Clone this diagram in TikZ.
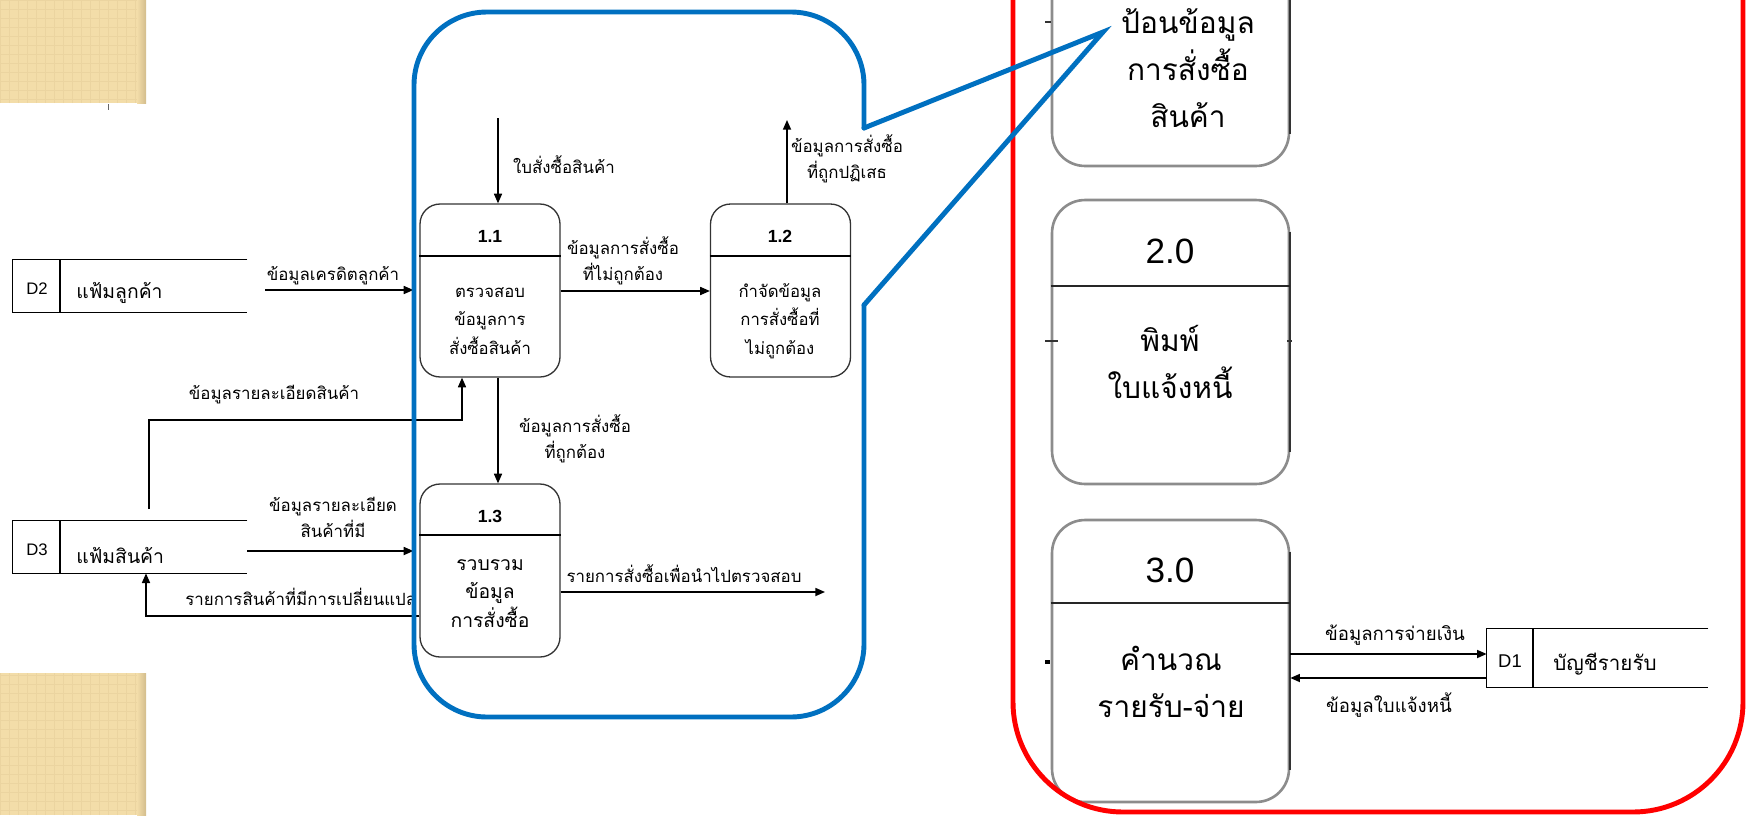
\documentclass[tikz,border=0pt]{standalone}
\usepackage{fontspec}
\setmainfont{Liberation Sans}
\newfontfamily\thai[Script=Thai]{Loma}
\usetikzlibrary{arrows.meta,calc}
\definecolor{framebl}{HTML}{0070C0}
\definecolor{framerd}{HTML}{FF0000}
\definecolor{beigeA}{HTML}{F3DDA9}
\definecolor{beigeB}{HTML}{EBD4A0}
\definecolor{beigeC}{HTML}{D2BC8C}
\definecolor{boxgray}{HTML}{8C8C8C}
\begin{document}
\begin{tikzpicture}[x=0.02cm,y=-0.02cm,
 flow/.style={draw=black,line width=0.8pt,-{Triangle[length=5.5pt,width=4.6pt]}},
 storeln/.style={draw=black,line width=0.85pt},
 proc/.style={draw=black!80,line width=0.75pt,rectangle,rounded corners=0.4cm,minimum width=2.8cm,minimum height=3.46cm,inner sep=0pt},
 procdiv/.style={draw=black,line width=0.75pt},
 rproc/.style={draw=boxgray,line width=1.5pt,rectangle,rounded corners=0.66cm,minimum width=4.74cm,inner sep=0pt},
 rdark/.style={draw=black!80,line width=1.2pt},
 rdiv/.style={draw=black!85,line width=1.6pt},
 tick/.style={draw=black!80,line width=1.2pt},
 ghost/.style={inner sep=0pt,minimum width=4.68cm,minimum height=1.04cm},
 lab/.style={font=\thai\fontsize{9.6}{14.8}\selectfont,inner sep=0pt,align=center,anchor=base},
 rlab/.style={font=\thai\fontsize{10.6}{14.8}\selectfont,inner sep=0pt,align=center,anchor=base},
 pbody/.style={font=\thai\fontsize{9.5}{16.2}\selectfont,inner sep=0pt,align=center,anchor=base},
 pbodyb/.style={font=\thai\fontsize{11}{16.2}\selectfont,inner sep=0pt,align=center,anchor=base},
 pnum/.style={font=\bfseries\fontsize{10}{12}\selectfont,inner sep=0pt,anchor=base},
 dnum/.style={font=\fontsize{9.5}{12}\selectfont,inner sep=0pt,anchor=base},
 dtxt/.style={font=\thai\fontsize{11}{15}\selectfont,inner sep=0pt,anchor=base west},
 rnum/.style={font=\fontsize{20}{24}\selectfont,inner sep=0pt,anchor=base},
 rtxt/.style={font=\thai\fontsize{17}{26.5}\selectfont,inner sep=0pt,align=center,anchor=base}
]
\useasboundingbox (0,0) rectangle (1748,815);
\clip (0,0) rectangle (1748,815);

% beige corner panels
\begin{scope}
\clip (0,0) rectangle (146,103);
\fill[beigeA] (0,0) rectangle (146,103);
\draw[beigeB,line width=0.35pt,step=0.18cm] (0,0) grid (146,103);
\fill[left color=beigeA,right color=beigeC] (137,0) rectangle (146,103);
\end{scope}
\begin{scope}
\clip (0,673) rectangle (146,815);
\fill[beigeA] (0,673) rectangle (146,815);
\draw[beigeB,line width=0.35pt,step=0.18cm] (0,673) grid (146,815);
\fill[left color=beigeA,right color=beigeC] (137,673) rectangle (146,815);
\end{scope}
\draw[black!60,line width=0.5pt] (108,104) -- (108,110);

% data stores D2, D3
\node[ghost] (d2) at (130,286) {};
\draw[storeln] (d2.north east) -- (d2.north west) -- (d2.south west) -- (d2.south east);
\draw[storeln] (d2.north west -| 60,0) -- (d2.south west -| 60,0);
\node[dnum] (d2n) at (37,294) {D2};
\node[dtxt] (d2t) at (76,298) {แฟ้มลูกค้า};

\node[ghost] (d3) at (130,547) {};
\draw[storeln] (d3.north east) -- (d3.north west) -- (d3.south west) -- (d3.south east);
\draw[storeln] (d3.north west -| 60,0) -- (d3.south west -| 60,0);
\node[dnum] (d3n) at (37,555) {D3};
\node[dtxt] (d3t) at (76,563) {แฟ้มสินค้า};

% processes 1.1, 1.2, 1.3
\node[proc] (p11) at (490,290.5) {};
\draw[procdiv] (p11.west |- 0,256) -- (p11.east |- 0,256);
\node[pnum] (n11) at (490,242) {1.1};
\node[pbody] (b11) at (490,354) {ตรวจสอบ\\ข้อมูลการ\\สั่งซื้อสินค้า};

\node[proc] (p12) at (780.5,290.5) {};
\draw[procdiv] (p12.west |- 0,256) -- (p12.east |- 0,256);
\node[pnum] (n12) at (780,242) {1.2};
\node[pbody] (b12) at (780,354) {กำจัดข้อมูล\\การสั่งซื้อที่\\ไม่ถูกต้อง};

\node[proc] (p13) at (490,570.5) {};
\draw[procdiv] (p13.west |- 0,535) -- (p13.east |- 0,535);
\node[pnum] (n13) at (490,522) {1.3};
\node[pbodyb] (b13) at (490,627) {รวบรวม\\ข้อมูล\\การสั่งซื้อ};

% connectors, left part
\coordinate (inorder) at (498,118);
\draw[flow] (inorder) -- (inorder |- p11.north);
\node[lab] (l1) at (564,173) {ใบสั่งซื้อสินค้า};

\coordinate (d2out) at (265,290);
\draw[flow,shorten >=0.12cm] (d2out) -- (d2out -| p11.west);
\node[lab] (l2) at (333,280) {ข้อมูลเครดิตลูกค้า};

\draw[flow] (p11.east |- 0,291) -- (p12.west |- 0,291);
\node[lab] (l3) at (623,280) {ข้อมูลการสั่งซื้อ\\ที่ไม่ถูกต้อง};

\coordinate (rej) at (787,120);
\draw[flow] (rej |- p12.north) -- (rej);
\node[lab] (l4) at (847,178) {ข้อมูลการสั่งซื้อ\\ที่ถูกปฏิเสธ};

\draw[flow] (p11.south -| 498,0) -- (p13.north -| 498,0);
\node[lab] (l5) at (575,458) {ข้อมูลการสั่งซื้อ\\ที่ถูกต้อง};

\coordinate (d3up) at (149,509);
\draw[flow] (d3up) -- (d3up |- 0,420) -| (p11.south -| 462,0);
\node[lab] (l6) at (274,399) {ข้อมูลรายละเอียดสินค้า};

\draw[flow,shorten >=0.12cm] (d3.east |- 0,551) -- (p13.west |- 0,551);
\node[lab] (l7) at (333,537) {ข้อมูลรายละเอียด\\สินค้าที่มี};

\draw[flow] (p13.west |- 0,616) -| (d3.south -| 146,0);
\begin{scope}
\clip (150,575) rectangle (413,612);
\node[lab,anchor=base west] (l8) at (185,605) {รายการสินค้าที่มีการเปลี่ยนแปลง};
\end{scope}

\coordinate (chk) at (825,592);
\draw[flow] (p13.east |- chk) -- (chk);
\node[lab] (l9) at (684,582) {รายการสั่งซื้อเพื่อนำไปตรวจสอบ};

% right part: processes
\node[rproc,minimum height=5.72cm] (r1) at (1170.5,23) {};
\draw[rdark] ([yshift=-0.66cm]r1.north east) -- ([yshift=0.66cm]r1.south east);
\draw[tick] (1045,22) -- (r1.west |- 0,22);
\node[rtxt] (r1t) at (1188,127) {ป้อนข้อมูล\\การสั่งซื้อ\\สินค้า};

\node[rproc,minimum height=5.68cm] (r2) at (1170.5,342) {};
\draw[rdark] ([yshift=-0.66cm]r2.north east) -- ([yshift=0.66cm]r2.south east);
\draw[rdiv] (r2.west |- 0,286) -- (r2.east |- 0,286);
\draw[tick] (1045,341) -- (1058,341);
\draw[tick] (1287,341) -- (1292,341);
\node[rnum] (n20) at (1170,263) {2.0};
\node[rtxt] (r2t) at (1170,398) {พิมพ์\\ใบแจ้งหนี้};

\node[rproc,minimum height=5.64cm] (r3) at (1170.5,661) {};
\draw[rdark] ([yshift=-0.66cm]r3.north east) -- ([yshift=0.66cm]r3.south east);
\draw[rdiv] (r3.west |- 0,603) -- (r3.east |- 0,603);
\draw[black,line width=2.5pt] (1045,662) -- (1050,662);
\node[rnum] (n30) at (1170,582) {3.0};
\node[rtxt] (r3t) at (1171,717) {คำนวณ\\รายรับ-จ่าย};

% data store D1
\node[inner sep=0pt,minimum width=4.42cm,minimum height=1.16cm] (d1) at (1597.5,658) {};
\draw[storeln] (d1.north east) -- (d1.north west) -- (d1.south west) -- (d1.south east);
\draw[storeln] (d1.north west -| 1533,0) -- (d1.south west -| 1533,0);
\node[dnum,font=\fontsize{10.5}{12}\selectfont] (d1n) at (1510,667) {D1};
\node[dtxt,font=\thai\fontsize{11.7}{15}\selectfont] (d1t) at (1553,670) {บัญชีรายรับ};

\draw[flow] (r3.east |- 0,654) -- (d1.west |- 0,654);
\node[rlab] (l10) at (1395,640) {ข้อมูลการจ่ายเงิน};
\draw[flow] (d1.west |- 0,678) -- (r3.east |- 0,678);
\node[rlab] (l11) at (1389,712) {ข้อมูลใบแจ้งหนี้};

% red frame
\draw[framerd,line width=2.8pt,rounded corners=2.2cm] (1013,-200) -- (1013,812) -- (1743,812) -- (1743,-200);

% blue callout frame
\draw[framebl,line width=2.8pt,rounded corners=1.46cm,line cap=round] (864,305) -- (864,717) -- (414,717) -- (414,12) -- (864,12) -- (864,128);
\draw[framebl,line width=2.8pt,line cap=round,line join=miter] (864,128) -- (1103,32) -- (864,305);
\end{tikzpicture}
\end{document}
